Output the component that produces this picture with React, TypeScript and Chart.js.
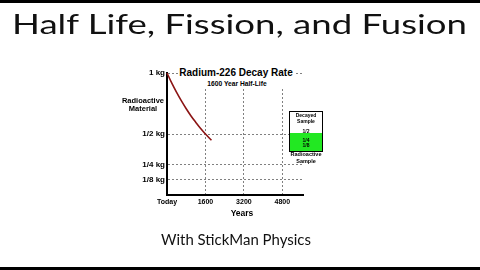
import React, { useEffect, useLayoutEffect, useRef } from 'react';
import { Chart, registerables } from 'chart.js';

Chart.register(...registerables);

// ---- data ----
const years = [0, 200, 400, 600, 800, 1000, 1200, 1400, 1600, 1850];
const massKg = [1, 0.917, 0.841, 0.771, 0.707, 0.648, 0.595, 0.545, 0.5, 0.449];
const xTickValues = [0, 1600, 3200, 4800];
const xTickLabels = ['Today', '1600', '3200', '4800'];
const yTickValues = [0.125, 0.25, 0.5, 1];
const yTickLabels = ['1/8 kg', '1/4 kg', '1/2 kg', '1 kg'];
const sampleFractions = ['1/2', '1/4', '1/8'];

const pageTitle = 'Half Life, Fission, and Fusion';
const pageFooter = 'With StickMan Physics';
const chartTitle = 'Radium-226 Decay Rate';
const chartSubtitle = '1600 Year Half-Life';
const yAxisTitle = ['Radioactive', 'Material'];
const xAxisTitle = 'Years';
const boxTop = ['Decayed', 'Sample'];
const boxBottom = ['Radioactive', 'Sample'];

const ARIAL = '"Liberation Sans", Arial, sans-serif';

function FitText(props: { text: string; left: number; top: number; width: number; style: React.CSSProperties }) {
  const ref = useRef<HTMLSpanElement>(null);
  useLayoutEffect(() => {
    const el = ref.current;
    if (!el) return;
    el.style.transform = 'none';
    const w = el.getBoundingClientRect().width;
    if (w > 0) el.style.transform = `scaleX(${props.width / w})`;
  }, [props.text, props.width]);
  return (
    <span
      ref={ref}
      style={{
        position: 'absolute',
        left: props.left,
        top: props.top,
        whiteSpace: 'nowrap',
        display: 'inline-block',
        transformOrigin: '0 0',
        ...props.style,
      }}
    >
      {props.text}
    </span>
  );
}

function Label(props: { text: string; cx: number; cy: number; size: number; bold?: boolean }) {
  return (
    <div
      style={{
        position: 'absolute',
        left: props.cx,
        top: props.cy,
        transform: 'translate(-50%, -50%)',
        whiteSpace: 'nowrap',
        fontFamily: ARIAL,
        fontWeight: props.bold === false ? 400 : 700,
        fontSize: props.size,
        lineHeight: 1,
        color: '#000',
      }}
    >
      {props.text}
    </div>
  );
}

export default function App() {
  const canvasRef = useRef<HTMLCanvasElement>(null);

  useEffect(() => {
    document.body.style.margin = '0';
    const canvas = canvasRef.current;
    if (!canvas) return;
    const chart = new Chart(canvas, {
      type: 'line',
      data: {
        datasets: [
          {
            data: years.map((x, i) => ({ x, y: massKg[i] })),
            borderColor: '#8b1414',
            borderWidth: 1.6,
            pointRadius: 0,
            tension: 0.4,
            fill: false,
            clip: false as any,
          },
        ],
      },
      options: {
        responsive: false,
        animation: false,
        devicePixelRatio: 1,
        layout: { padding: { left: 107, right: 177, top: 73, bottom: 60 } },
        plugins: {
          legend: { display: false },
          tooltip: { enabled: false },
          title: { display: false },
        },
        scales: {
          x: {
            type: 'linear',
            min: 0,
            max: 5660,
            afterBuildTicks: (s: any) => {
              s.ticks = xTickValues.map((v) => ({ value: v }));
            },
            afterFit: (s: any) => {
              s.height = 15;
            },
            ticks: {
              autoSkip: false,
              maxRotation: 0,
              minRotation: 0,
              padding: 3,
              color: '#000',
              font: { family: ARIAL, weight: 'bold', size: 7 },
              callback: (v: any) => {
                const i = xTickValues.indexOf(Number(v));
                return i >= 0 ? xTickLabels[i] : '';
              },
            },
            grid: {
              drawTicks: false,
              lineWidth: 1,
              color: (ctx: any) => (ctx.tick && ctx.tick.value === 0 ? 'rgba(0,0,0,0)' : '#808080'),
            },
            border: { color: '#000', width: 2, dash: [2, 2] },
          },
          y: {
            type: 'linear',
            min: 0,
            max: 1,
            afterBuildTicks: (s: any) => {
              s.ticks = yTickValues.map((v) => ({ value: v }));
            },
            afterFit: (s: any) => {
              s.width = 60;
            },
            ticks: {
              autoSkip: false,
              padding: 2,
              color: '#000',
              font: { family: ARIAL, weight: 'bold', size: 8 },
              callback: (v: any) => {
                const i = yTickValues.indexOf(Number(v));
                return i >= 0 ? yTickLabels[i] : '';
              },
            },
            grid: { drawTicks: false, lineWidth: 1, color: '#808080' },
            border: { color: '#000', width: 2, dash: [2, 2] },
          },
        },
      } as any,
    });
    return () => chart.destroy();
  }, []);

  return (
    <div
      style={{
        position: 'fixed',
        left: 0,
        top: 0,
        width: 480,
        height: 270,
        background: '#fff',
        overflow: 'hidden',
      }}
    >
      <canvas ref={canvasRef} width={480} height={270} style={{ position: 'absolute', left: 0, top: 0, display: 'block' }} />

      {/* black bands */}
      <div style={{ position: 'absolute', left: 0, top: 0, width: 480, height: 3, background: '#000' }} />
      <div style={{ position: 'absolute', left: 0, top: 267, width: 480, height: 3, background: '#000' }} />

      {/* page title and footer */}
      <FitText
        text={pageTitle}
        left={12}
        top={10.3}
        width={455}
        style={{ fontFamily: 'Lato, "Open Sans", sans-serif', fontSize: 27.9, lineHeight: '27.9px', color: '#111' }}
      />
      <FitText
        text={pageFooter}
        left={161}
        top={232.3}
        width={150}
        style={{ fontFamily: 'Lato, "Open Sans", sans-serif', fontSize: 15.4, lineHeight: '15.4px', color: '#111' }}
      />

      {/* chart title block (white background hides grid behind) */}
      <div style={{ position: 'absolute', left: 178, top: 64, width: 116, height: 25, background: '#fff' }} />
      <Label text={chartTitle} cx={236} cy={72.5} size={10} />
      <Label text={chartSubtitle} cx={237} cy={84} size={6.7} />

      {/* axis titles */}
      <Label text={yAxisTitle[0]} cx={143} cy={101} size={7.5} />
      <Label text={yAxisTitle[1]} cx={143} cy={109} size={7.5} />
      <Label text={xAxisTitle} cx={242} cy={213} size={8.5} />

      {/* sample box */}
      <div
        style={{
          position: 'absolute',
          left: 289,
          top: 111,
          width: 32,
          height: 39,
          border: '1px solid #000',
          background: '#fff',
          overflow: 'hidden',
        }}
      >
        <div style={{ position: 'absolute', left: 0, top: 21, width: 32, height: 18, background: '#22e822' }} />
      </div>
      <Label text={boxTop[0]} cx={306} cy={114.5} size={5} />
      <Label text={boxTop[1]} cx={306} cy={120.5} size={5} />
      <Label text={sampleFractions[0]} cx={306} cy={130.5} size={5} />
      <Label text={sampleFractions[1]} cx={306} cy={140} size={5} />
      <Label text={sampleFractions[2]} cx={306} cy={145} size={5} />
      <Label text={boxBottom[0]} cx={306} cy={155} size={5.5} />
      <Label text={boxBottom[1]} cx={306} cy={161.5} size={5.5} />
    </div>
  );
}
